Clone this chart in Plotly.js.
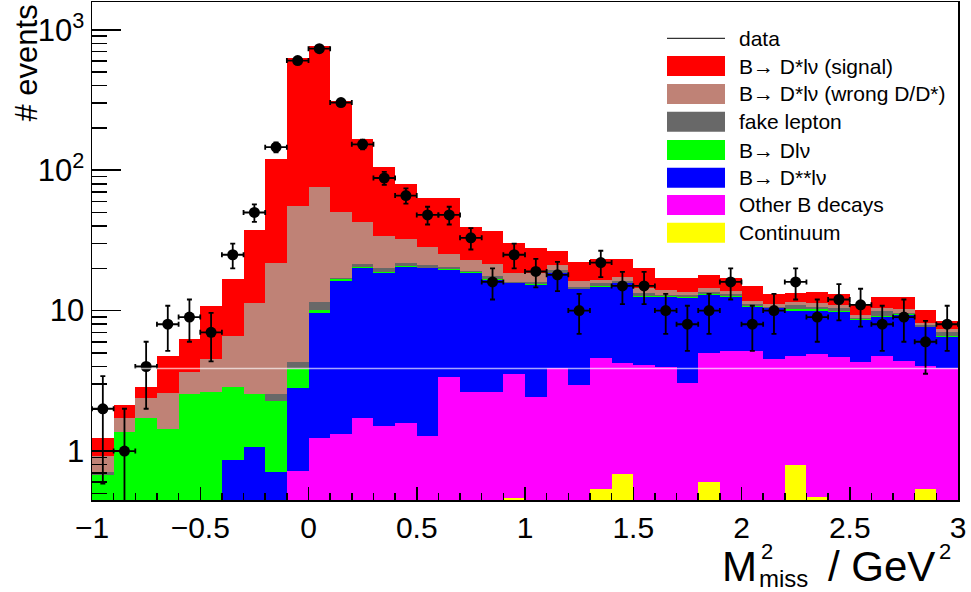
<!DOCTYPE html>
<html><head><meta charset="utf-8">
<script src="https://cdn.plot.ly/plotly-3.0.1.min.js"></script>
<style>html,body{margin:0;padding:0;background:#fff}#chart{width:971px;height:592px}</style>
</head><body><div id="chart"></div>
<script>
// bin centres of M2miss (GeV^2), 0.1 wide bins from -1 to 3
const binCenters = [-0.95,-0.85,-0.75,-0.65,-0.55,-0.45,-0.35,-0.25,-0.15,-0.05,
  0.05,0.15,0.25,0.35,0.45,0.55,0.65,0.75,0.85,0.95,
  1.05,1.15,1.25,1.35,1.45,1.55,1.65,1.75,1.85,1.95,
  2.05,2.15,2.25,2.35,2.45,2.55,2.65,2.75,2.85,2.95];
const dataCounts = [2,1,4,8,9,7,25,50,146,604,734,303,153,88,66,48,48,33,16,25,
  19,18,10,22,15,15,10,8,10,16,8,10,16,9,12,11,8,9,6,8];
const continuum = [0,0,0,0,0,0,0,0,0,0, 0,0,0,0,0,0,0,0,0,0.46,
  0,0,0,0.54,0.69,0,0,0,0.6,0, 0,0,0.79,0.47,0,0,0,0,0.54,0];
const otherB = [0,0,0,0,0,0,0,0,0,0.72, 1.23,1.32,1.71,1.51,1.58,1.28,3.35,2.62,2.64,3.07,
  2.44,3.88,2.95,4.03,3.52,4.09,3.96,3.03,4.36,5.15, 5.15,4.5,3.98,4.41,4.65,4.32,4.75,4.37,3.49,3.88];
const dstarstar = [0,0,0,0,0,0,0.87,1.07,0.71,2.1, 8.32,14.9,18.46,17.07,18.93,18.69,16.08,15.78,13.85,12.09,
  12.76,14.52,11.21,10.2,11.41,8.45,8.46,9.18,7.93,7.39, 5.49,5.88,5.2,5.09,5.17,4.24,4.29,4.96,3.56,2.63];
const dlnu = [0.675,1.36,1.73,1.43,2.53,2.64,1.98,1.47,1.56,1.01, 0.53,0.46,0.33,0.2,0.3,0.2,0.2,0.3,0.3,0.15,
  0.2,0.2,0.2,0.2,0.2,0.2,0.2,0.2,0.2,0.2, 0.2,0.1,0.3,0.3,0.2,0.1,0.11,0.1,0.1,0.1];
const fakeLepton = [0.03,0,0,0,0,0,0,0,0.28,0.47, 1.41,0.44,0.93,1.19,0.88,0.91,0.67,0.5,0.81,0.26,
  0.64,0.83,0.41,0.65,0.48,0.52,0.27,0.48,0.52,0.36, 0.29,0.17,0.67,0.37,0.36,0.23,0.83,0.21,0.19,0.46];
const wrongD = [0.21,0.37,0.66,1.16,1.12,1.85,3.76,8.83,19.34,51.4, 64.2,33.4,21.42,13.93,10.44,7.38,4.94,3.68,3.83,2.55,
  2.37,1.83,1.53,0.87,1.1,1.13,1.1,0.72,0.92,0.73, 0.55,0.49,0.61,0.61,0.57,0.4,0.4,0.55,0.31,0.28];
const signal = [0.33,0.4,0.49,2.18,2.62,6.27,10.07,26.05,98.5,578.4, 691.1,260.8,124.3,71.7,47.4,34.43,37.65,16.6,15.37,11.51,
  9.59,5.39,5.73,6.77,5.86,5.58,2.96,3.34,3.36,3.12, 3.26,1.97,1.83,2.36,2.16,1.65,2.05,2.22,1.89,1.11];

const seriesNames = ["Continuum","Other B decays","B\u2192 D**l\u03bd","B\u2192 Dl\u03bd","fake lepton",
  "B\u2192 D*l\u03bd (wrong D/D*)","B\u2192 D*l\u03bd (signal)"];
const seriesColors = ["#ffff00","#ff00ff","#0000ff","#00ff00","#686868","#bf8276","#ff0000"];
const seriesValues = [continuum, otherB, dstarstar, dlnu, fakeLepton, wrongD, signal];
const legendOrder = ["data","B\u2192 D*l\u03bd (signal)","B\u2192 D*l\u03bd (wrong D/D*)","fake lepton",
  "B\u2192 Dl\u03bd","B\u2192 D**l\u03bd","Other B decays","Continuum"];

const FONT = "Liberation Sans, Arial, Helvetica, sans-serif";
const traces = seriesValues.map((v,i)=>({
  type:'bar', x:binCenters, y:v, name:seriesNames[i],
  marker:{color:seriesColors[i], line:{width:0}}, showlegend:false
}));
traces.push({
  type:'scatter', mode:'markers', x:binCenters, y:dataCounts, name:'data', showlegend:false,
  marker:{color:'#000', size:11},
  error_y:{type:'sqrt', color:'#000', thickness:1.8, width:2.5},
  error_x:{type:'constant', value:0.05, color:'#000', thickness:1.8, width:2.5}
});

// plot-area pixel helpers (layout only)
const L=92, R=958, T=2, B=500;
const px=(p)=>(p-L)/(R-L), py=(p)=>(B-p)/(B-T);

const minorY=[];
[0.1,1,10,100].forEach(d=>{for(let k=2;k<=9;k++){minorY.push(k*d);}});

const shapes=[], annotations=[];
// faint horizontal white line across the frame
shapes.push({type:'line', xref:'paper', yref:'paper', x0:0, x1:1, y0:py(368.5), y1:py(368.5),
  line:{color:'rgba(255,255,255,0.65)', width:1.5}, layer:'above'});
// legend
const legY=[38.3,66,94,121.7,150,177.7,205,232.7];
legendOrder.forEach((lab,i)=>{
  if(i===0){
    shapes.push({type:'line', xref:'paper', yref:'paper', x0:px(667), x1:px(725), y0:py(legY[0]), y1:py(legY[0]),
      line:{color:'#000', width:1}});
  } else {
    const idx = seriesNames.indexOf(lab);
    shapes.push({type:'rect', xref:'paper', yref:'paper', x0:px(667), x1:px(725), y0:py(legY[i]+10), y1:py(legY[i]-10),
      fillcolor:seriesColors[idx], line:{width:0}});
  }
  annotations.push({xref:'paper', yref:'paper', x:px(737), y:py(legY[i]), xanchor:'left', yanchor:'middle',
    text:lab, showarrow:false, font:{family:FONT, size:21, color:'#000'}});
});
// axis titles
annotations.push({xref:'paper', yref:'paper', x:px(26), y:py(3), xanchor:'center', yanchor:'top', textangle:-90,
  text:'# events', showarrow:false, font:{family:FONT, size:31, color:'#000'}});
annotations.push({xref:'paper', yref:'paper', x:px(759), y:py(592), xanchor:'right', yanchor:'bottom',
  text:'M', showarrow:false, font:{family:FONT, size:42, color:'#000'}});
annotations.push({xref:'paper', yref:'paper', x:px(759), y:py(551), xanchor:'left', yanchor:'middle',
  text:'2', showarrow:false, font:{family:FONT, size:22, color:'#000'}});
annotations.push({xref:'paper', yref:'paper', x:px(757), y:py(578), xanchor:'left', yanchor:'middle',
  text:'miss', showarrow:false, font:{family:FONT, size:24, color:'#000'}});
annotations.push({xref:'paper', yref:'paper', x:px(937), y:py(592), xanchor:'right', yanchor:'bottom',
  text:'/ GeV', showarrow:false, font:{family:FONT, size:42, color:'#000'}});
annotations.push({xref:'paper', yref:'paper', x:px(937), y:py(551), xanchor:'left', yanchor:'middle',
  text:'2', showarrow:false, font:{family:FONT, size:22, color:'#000'}});

const layout = {
  width:971, height:592, margin:{l:L, r:971-R, t:T, b:592-B},
  paper_bgcolor:'#fff', plot_bgcolor:'#fff', barmode:'stack', bargap:0, showlegend:false,
  hovermode:false,
  xaxis:{range:[-1,3], tickmode:'linear', tick0:-1, dtick:0.5, ticks:'inside', ticklen:13, tickwidth:1.5,
    tickcolor:'#000', showline:true, linecolor:'#000', linewidth:1.5, mirror:true, showgrid:false, zeroline:false,
    minor:{tick0:-1, dtick:0.1, ticks:'inside', ticklen:7, tickwidth:1.5, tickcolor:'#000', showgrid:false},
    tickfont:{family:FONT, size:30, color:'#000'}},
  yaxis:{type:'log', range:[Math.log10(0.448), 3.198], tickmode:'array', tickvals:[1,10,100,1000],
    ticktext:['1','10','10<sup>2</sup>','10<sup>3</sup>'], ticks:'inside', ticklen:29, tickwidth:1.5, tickcolor:'#000',
    showline:true, linecolor:'#000', linewidth:1.5, mirror:true, showgrid:false, zeroline:false,
    minor:{tickmode:'array', tickvals:minorY, ticks:'inside', ticklen:15, tickwidth:1.5, tickcolor:'#000', showgrid:false},
    tickfont:{family:FONT, size:31, color:'#000'}},
  shapes:shapes, annotations:annotations
};
Plotly.newPlot('chart', traces, layout, {staticPlot:true, displayModeBar:false});
</script></body></html>
